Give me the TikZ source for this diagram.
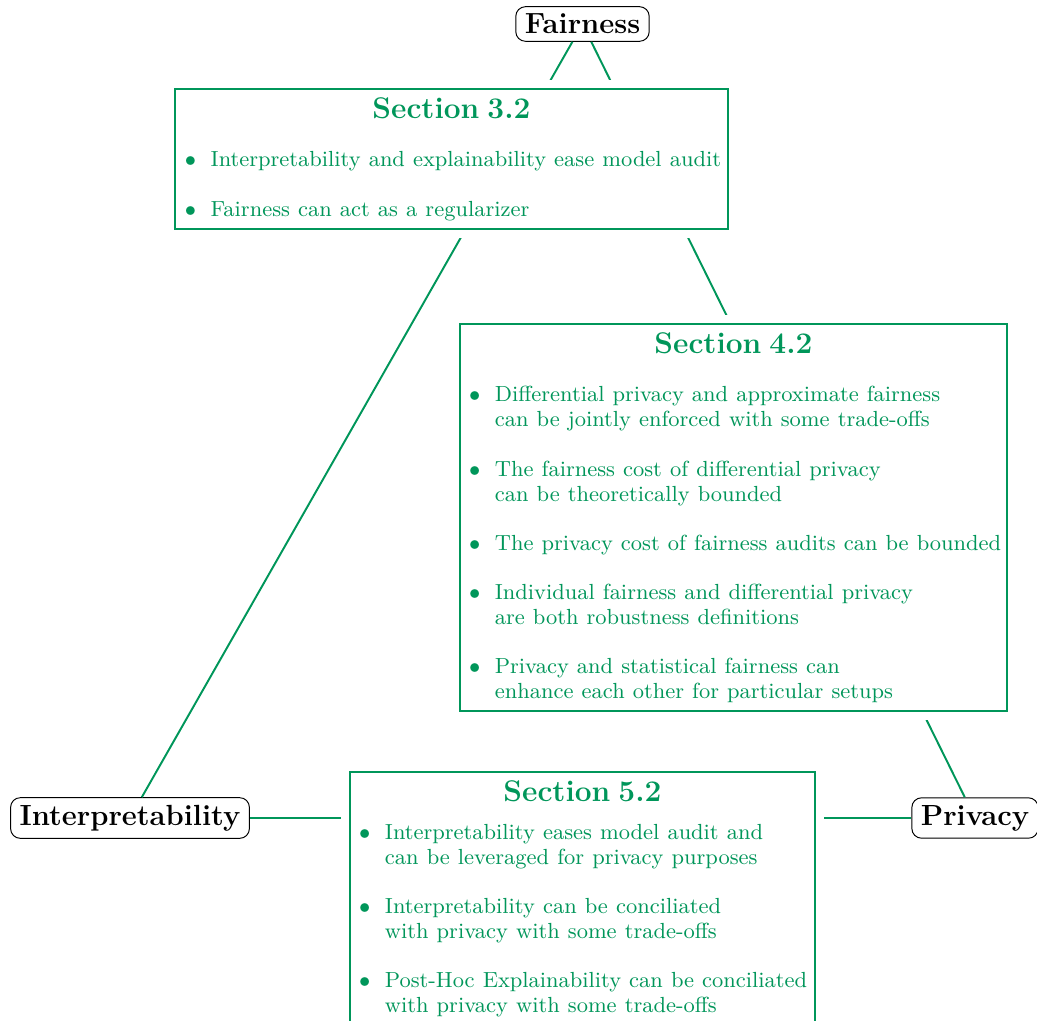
\documentclass[tikz,border=0pt]{standalone}
\usepackage{enumitem}
\definecolor{secgreen}{RGB}{0,150,90}
\tikzset{
  topic/.style={draw, rounded corners, inner xsep=3.7pt, inner ysep=3pt, font=\large\bfseries, fill=white},
  secbox/.style={draw=secgreen, thick, text=secgreen, fill=white, anchor=north,
    inner xsep=2pt, inner ysep=3.5pt, preaction={draw=white, line width=7pt}},
  link/.style={draw=secgreen, thick}
}
\newcommand{\sectitle}[2][9.7pt]{{\centering\fontsize{12.3}{14}\selectfont\bfseries #2\par}\vspace{#1}}
\newenvironment{secitems}{\fontsize{9}{10.3}\selectfont
  \begin{itemize}[nosep,label=$\bullet$,leftmargin=12.5pt,labelsep=6pt,itemsep=9.9pt]}{\end{itemize}}
\begin{document}
\begin{tikzpicture}[x=0.4115pt,y=-0.4115pt]
\useasboundingbox (0,0) rectangle (1037,1021);
% the three topics
\node[topic] (fair) at (582.5,24) {Fairness};
\node[topic] (interp) at (130,818) {Interpretability};
\node[topic] (priv) at (975,818) {Privacy};
% links between topics
\draw[link] (fair) -- (interp);
\draw[link] (fair) -- (priv);
\draw[link] (interp) -- (priv);
% section boxes on the links
\node[secbox, text width=223.2pt] (sec32) at (451.5,88) {\sectitle{Section 3.2}
\begin{secitems}
\item Interpretability and explainability ease model audit
\item Fairness can act as a regularizer
\end{secitems}};
\node[secbox, text width=221.4pt] (sec42) at (733.5,323) {\sectitle{Section 4.2}
\begin{secitems}
\item Differential privacy and approximate fairness\\ can be jointly enforced with some trade-offs
\item The fairness cost of differential privacy\\ can be theoretically bounded
\item The privacy cost of fairness audits can be bounded
\item Individual fairness and differential privacy\\ are both robustness definitions
\item Privacy and statistical fairness can\\ enhance each other for particular setups
\end{secitems}};
\node[secbox, text width=187.6pt] (sec52) at (582.5,771) {\sectitle[5.2pt]{Section 5.2}
\begin{secitems}
\item Interpretability eases model audit and\\ can be leveraged for privacy purposes
\item Interpretability can be conciliated\\ with privacy with some trade-offs
\item Post-Hoc Explainability can be conciliated\\ with privacy with some trade-offs
\end{secitems}};
\end{tikzpicture}
\end{document}
